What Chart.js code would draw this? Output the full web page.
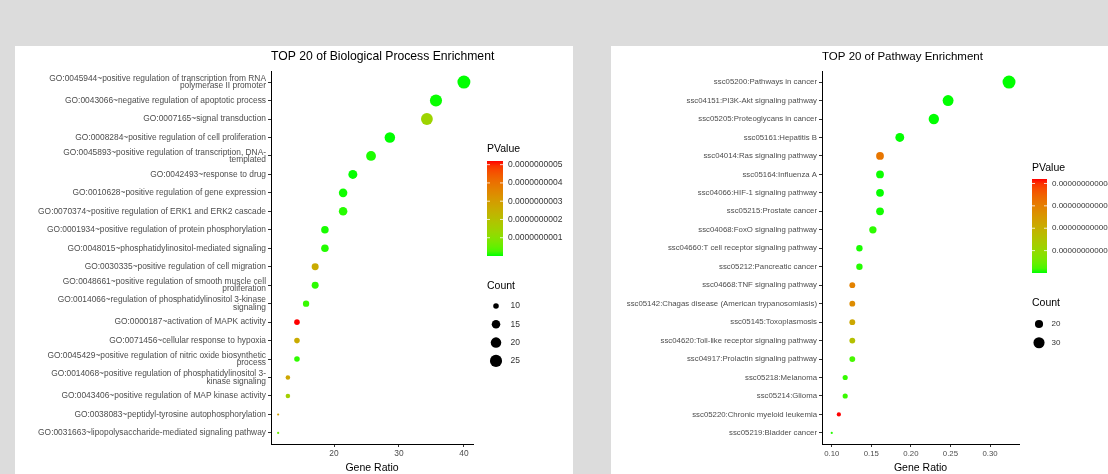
<!DOCTYPE html>
<html>
<head>
<meta charset="utf-8">
<script src="https://cdn.jsdelivr.net/npm/chart.js@4.4.1/dist/chart.umd.min.js"></script>
<style>
  body { margin: 0; background: #dcdcdc; width: 1108px; height: 474px; overflow: hidden; position: relative; }
  .painel { position: absolute; background: #fff; overflow: hidden; }
  .painel canvas { display: block; }
</style>
</head>
<body>
<div class="painel" style="left:15px; top:46px; width:558px; height:428px">
  <canvas id="graficoBP" width="558" height="428"></canvas>
</div>
<div class="painel" style="left:611px; top:46px; width:497px; height:428px">
  <canvas id="graficoKEGG" width="497" height="428"></canvas>
</div>
<script>
// ---- Biological Process (GO) ----
const bpTitulo = 'TOP 20 of Biological Process Enrichment'
const bpTermos = [
  'GO:0045944~positive regulation of transcription from RNA\npolymerase II promoter',
  'GO:0043066~negative regulation of apoptotic process',
  'GO:0007165~signal transduction',
  'GO:0008284~positive regulation of cell proliferation',
  'GO:0045893~positive regulation of transcription, DNA-\ntemplated',
  'GO:0042493~response to drug',
  'GO:0010628~positive regulation of gene expression',
  'GO:0070374~positive regulation of ERK1 and ERK2 cascade',
  'GO:0001934~positive regulation of protein phosphorylation',
  'GO:0048015~phosphatidylinositol-mediated signaling',
  'GO:0030335~positive regulation of cell migration',
  'GO:0048661~positive regulation of smooth muscle cell\nproliferation',
  'GO:0014066~regulation of phosphatidylinositol 3-kinase\nsignaling',
  'GO:0000187~activation of MAPK activity',
  'GO:0071456~cellular response to hypoxia',
  'GO:0045429~positive regulation of nitric oxide biosynthetic\nprocess',
  'GO:0014068~positive regulation of phosphatidylinositol 3-\nkinase signaling',
  'GO:0043406~positive regulation of MAP kinase activity',
  'GO:0038083~peptidyl-tyrosine autophosphorylation',
  'GO:0031663~lipopolysaccharide-mediated signaling pathway'
]
const bpRatio = [40, 35.7, 34.3, 28.6, 25.7, 22.9, 21.4, 21.4, 18.6, 18.6, 17.1, 17.1, 15.7, 14.3, 14.3, 14.3, 12.9, 12.9, 11.4, 11.4]
const bpCount = [28, 25, 24, 20, 18, 16, 15, 15, 13, 13, 12, 12, 11, 10, 10, 10, 9, 9, 8, 8]
const bpPValue = [3.1e-15, 8.9e-13, 1.4e-10, 2.2e-14, 4.6e-12, 5.0e-13, 1.9e-12, 7.4e-12, 3.3e-12, 6.1e-12,
  2.6e-10, 9.8e-12, 1.5e-11, 5.2e-10, 2.6e-10, 1.1e-11, 2.75e-10, 1.55e-10, 2.9e-10, 6.0e-11]
const bpTicksX = [20, 30, 40]
const bpQuebrasP = [5e-10, 4e-10, 3e-10, 2e-10, 1e-10]
const bpQuebrasCount = [10, 15, 20, 25]

// ---- KEGG pathways ----
const kgTitulo = 'TOP 20 of Pathway Enrichment'
const kgTermos = [
  'ssc05200:Pathways in cancer',
  'ssc04151:PI3K-Akt signaling pathway',
  'ssc05205:Proteoglycans in cancer',
  'ssc05161:Hepatitis B',
  'ssc04014:Ras signaling pathway',
  'ssc05164:Influenza A',
  'ssc04066:HIF-1 signaling pathway',
  'ssc05215:Prostate cancer',
  'ssc04068:FoxO signaling pathway',
  'ssc04660:T cell receptor signaling pathway',
  'ssc05212:Pancreatic cancer',
  'ssc04668:TNF signaling pathway',
  'ssc05142:Chagas disease (American trypanosomiasis)',
  'ssc05145:Toxoplasmosis',
  'ssc04620:Toll-like receptor signaling pathway',
  'ssc04917:Prolactin signaling pathway',
  'ssc05218:Melanoma',
  'ssc05214:Glioma',
  'ssc05220:Chronic myeloid leukemia',
  'ssc05219:Bladder cancer'
]
const kgRatio = [0.324, 0.247, 0.229, 0.186, 0.161, 0.161, 0.161, 0.161, 0.152, 0.135, 0.135, 0.126, 0.126, 0.126, 0.126, 0.126, 0.117, 0.117, 0.109, 0.100]
const kgCount = [38, 29, 27, 22, 19, 19, 19, 19, 18, 16, 16, 15, 15, 15, 15, 15, 14, 14, 13, 12]
const kgPValue = [1.2e-20, 3.5e-18, 6.1e-17, 2.3e-15, 3.15e-12, 1.1e-14, 4.7e-15, 2.0e-14, 8.3e-14, 3.0e-14,
  5.6e-14, 2.95e-12, 2.75e-12, 2.2e-12, 1.6e-12, 2.0e-13, 1.1e-13, 1.3e-13, 4.2e-12, 6.4e-14]
const kgTicksX = [0.10, 0.15, 0.20, 0.25, 0.30]
const kgQuebrasP = [4e-12, 3e-12, 2e-12, 1e-12]
const kgQuebrasCount = [20, 30]

const FONTE = "'Liberation Sans', Arial, sans-serif"

// gradiente verde -> vermelho em Lab (como o ggplot)
function paraLinear(c) {
  c = c / 255
  return c <= 0.04045 ? c / 12.92 : Math.pow((c + 0.055) / 1.055, 2.4)
}
function paraLab(r, g, b) {
  r = paraLinear(r); g = paraLinear(g); b = paraLinear(b)
  const X = (0.4124 * r + 0.3576 * g + 0.1805 * b) / 0.95047
  const Y = 0.2126 * r + 0.7152 * g + 0.0722 * b
  const Z = (0.0193 * r + 0.1192 * g + 0.9505 * b) / 1.08883
  const f = function(t) { return t > 0.008856 ? Math.cbrt(t) : 7.787 * t + 16 / 116 }
  return [116 * f(Y) - 16, 500 * (f(X) - f(Y)), 200 * (f(Y) - f(Z))]
}
function deLab(L, a, bb) {
  const fy = (L + 16) / 116, fx = fy + a / 500, fz = fy - bb / 200
  const inv = function(t) { return t * t * t > 0.008856 ? t * t * t : (t - 16 / 116) / 7.787 }
  const X = 0.95047 * inv(fx), Y = inv(fy), Z = 1.08883 * inv(fz)
  const lin = [
    3.2406 * X - 1.5372 * Y - 0.4986 * Z,
    -0.9689 * X + 1.8758 * Y + 0.0415 * Z,
    0.0557 * X - 0.2040 * Y + 1.0570 * Z
  ]
  const rgb = lin.map(function(c) {
    c = c <= 0.0031308 ? 12.92 * c : 1.055 * Math.pow(c, 1 / 2.4) - 0.055
    return Math.round(Math.min(1, Math.max(0, c)) * 255)
  })
  return 'rgb(' + rgb.join(',') + ')'
}
const labBaixo = paraLab(0, 255, 0)
const labAlto = paraLab(255, 0, 0)
function corGradiente(t) {
  return deLab(
    labBaixo[0] + (labAlto[0] - labBaixo[0]) * t,
    labBaixo[1] + (labAlto[1] - labBaixo[1]) * t,
    labBaixo[2] + (labAlto[2] - labBaixo[2]) * t
  )
}

// escala de tamanho por area (scale_size)
function raio(count, cMin, cMax) {
  return 1.08 * (1 + 5 * Math.sqrt((count - cMin) / (cMax - cMin)))
}

function pluginLegenda(cfg, pMin, pMax, cMin, cMax) {
  return {
    id: 'legendaGG',
    afterDraw: function(chart) {
      const ctx = chart.ctx
      const L = cfg.legenda
      ctx.save()
      ctx.textBaseline = 'middle'
      ctx.textAlign = 'left'
      ctx.fillStyle = '#000'
      ctx.font = cfg.tamTitulo + 'px ' + FONTE
      ctx.fillText(cfg.titulo, chart.chartArea.left, 11)

      ctx.font = '10.5px ' + FONTE
      ctx.fillText('PValue', L.x, L.tituloP)
      const grad = ctx.createLinearGradient(0, L.barraTopo + L.barraAlt, 0, L.barraTopo)
      for (let k = 0; k <= 20; k++) grad.addColorStop(k / 20, corGradiente(k / 20))
      ctx.fillStyle = grad
      ctx.fillRect(L.x, L.barraTopo, L.barraLarg, L.barraAlt)

      ctx.font = cfg.tamLegenda + 'px ' + FONTE
      cfg.quebrasP.forEach(function(b) {
        const y = L.barraTopo + L.barraAlt - (b - pMin) / (pMax - pMin) * L.barraAlt
        ctx.strokeStyle = 'rgba(255,255,255,0.8)'
        ctx.lineWidth = 1
        ctx.beginPath()
        ctx.moveTo(L.x, y); ctx.lineTo(L.x + 3, y)
        ctx.moveTo(L.x + L.barraLarg - 3, y); ctx.lineTo(L.x + L.barraLarg, y)
        ctx.stroke()
        ctx.fillStyle = '#333'
        ctx.fillText(b.toFixed(cfg.casasP), L.x + L.barraLarg + 5, y)
      })

      ctx.fillStyle = '#000'
      ctx.font = '10.5px ' + FONTE
      ctx.fillText('Count', L.x, L.tituloCount)
      cfg.quebrasCount.forEach(function(c, i) {
        const y = L.countTopo + i * L.countPasso
        ctx.fillStyle = '#000'
        ctx.beginPath()
        ctx.arc(L.x + L.pontoDx, y, raio(c, cMin, cMax), 0, 2 * Math.PI)
        ctx.fill()
        ctx.fillStyle = '#333'
        ctx.font = cfg.tamLegenda + 'px ' + FONTE
        ctx.fillText(String(c), L.x + L.textoDx, y)
      })
      ctx.restore()
    }
  }
}

function criarGrafico(idCanvas, cfg) {
  const n = cfg.termos.length
  const pMin = Math.min.apply(null, cfg.pvalue), pMax = Math.max.apply(null, cfg.pvalue)
  const cMin = Math.min.apply(null, cfg.count), cMax = Math.max.apply(null, cfg.count)
  const pontos = cfg.ratio.map(function(r, i) { return { x: r, y: i + 1 } })
  const raios = cfg.count.map(function(c) { return raio(c, cMin, cMax) })
  const cores = cfg.pvalue.map(function(p) { return corGradiente((p - pMin) / (pMax - pMin)) })

  const eixo = {
    grid: { drawOnChartArea: false, drawTicks: true, tickLength: 3, color: '#333' },
    border: { display: true, color: '#000', width: 1 }
  }

  new Chart(document.getElementById(idCanvas), {
    type: 'scatter',
    data: {
      datasets: [{
        data: pontos,
        pointRadius: raios,
        pointHoverRadius: raios,
        pointBackgroundColor: cores,
        pointBorderWidth: 0
      }]
    },
    options: {
      responsive: false,
      animation: false,
      devicePixelRatio: 1,
      layout: { padding: { top: 25, right: cfg.padDireita, bottom: 0, left: 0 } },
      plugins: { legend: { display: false }, tooltip: { enabled: false } },
      scales: {
        x: Object.assign({
          type: 'linear',
          min: cfg.xMin,
          max: cfg.xMax,
          afterBuildTicks: function(s) { s.ticks = cfg.ticksX.map(function(v) { return { value: v } }) },
          afterFit: function(s) { s.height = 30 },
          ticks: {
            font: { family: FONTE, size: cfg.tamTick },
            color: '#4d4d4d',
            padding: 2,
            maxRotation: 0,
            callback: function(v) { return cfg.formatoX(v) }
          },
          title: { display: true, text: 'Gene Ratio', font: { family: FONTE, size: 10.5 }, color: '#000', padding: 0 }
        }, eixo),
        y: Object.assign({
          type: 'linear',
          reverse: true,
          min: 0.4,
          max: n + 0.6,
          afterBuildTicks: function(s) { s.ticks = cfg.termos.map(function(t, i) { return { value: i + 1 } }) },
          afterFit: function(s) { s.width = cfg.larguraEixo },
          ticks: {
            autoSkip: false,
            font: { family: FONTE, size: cfg.tamTick, lineHeight: cfg.alturaLinha },
            color: '#4d4d4d',
            padding: 2,
            callback: function(v) { return cfg.termos[v - 1].split('\n') }
          }
        }, eixo)
      }
    },
    plugins: [pluginLegenda(cfg, pMin, pMax, cMin, cMax)]
  })
}

criarGrafico('graficoBP', {
  titulo: bpTitulo, termos: bpTermos, ratio: bpRatio, count: bpCount, pvalue: bpPValue,
  ticksX: bpTicksX, quebrasP: bpQuebrasP, quebrasCount: bpQuebrasCount, casasP: 10,
  xMin: 10.3, xMax: 41.4, larguraEixo: 256, padDireita: 100,
  tamTick: 8.4, alturaLinha: 0.88, tamTitulo: 12.2, tamLegenda: 8.5,
  formatoX: function(v) { return String(v) },
  legenda: { x: 472, tituloP: 103, barraTopo: 115, barraAlt: 95, barraLarg: 16,
    tituloCount: 240, countTopo: 260, countPasso: 18.3, pontoDx: 9, textoDx: 23.5 }
})

criarGrafico('graficoKEGG', {
  titulo: kgTitulo, termos: kgTermos, ratio: kgRatio, count: kgCount, pvalue: kgPValue,
  ticksX: kgTicksX, quebrasP: kgQuebrasP, quebrasCount: kgQuebrasCount, casasP: 12,
  xMin: 0.0877, xMax: 0.3366, larguraEixo: 211, padDireita: 89,
  tamTick: 7.8, alturaLinha: 1.0, tamTitulo: 11.5, tamLegenda: 8,
  formatoX: function(v) { return v.toFixed(2) },
  legenda: { x: 421, tituloP: 122, barraTopo: 133, barraAlt: 94, barraLarg: 15,
    tituloCount: 257, countTopo: 278, countPasso: 18.7, pontoDx: 7, textoDx: 19.5 }
})
</script>
</body>
</html>
